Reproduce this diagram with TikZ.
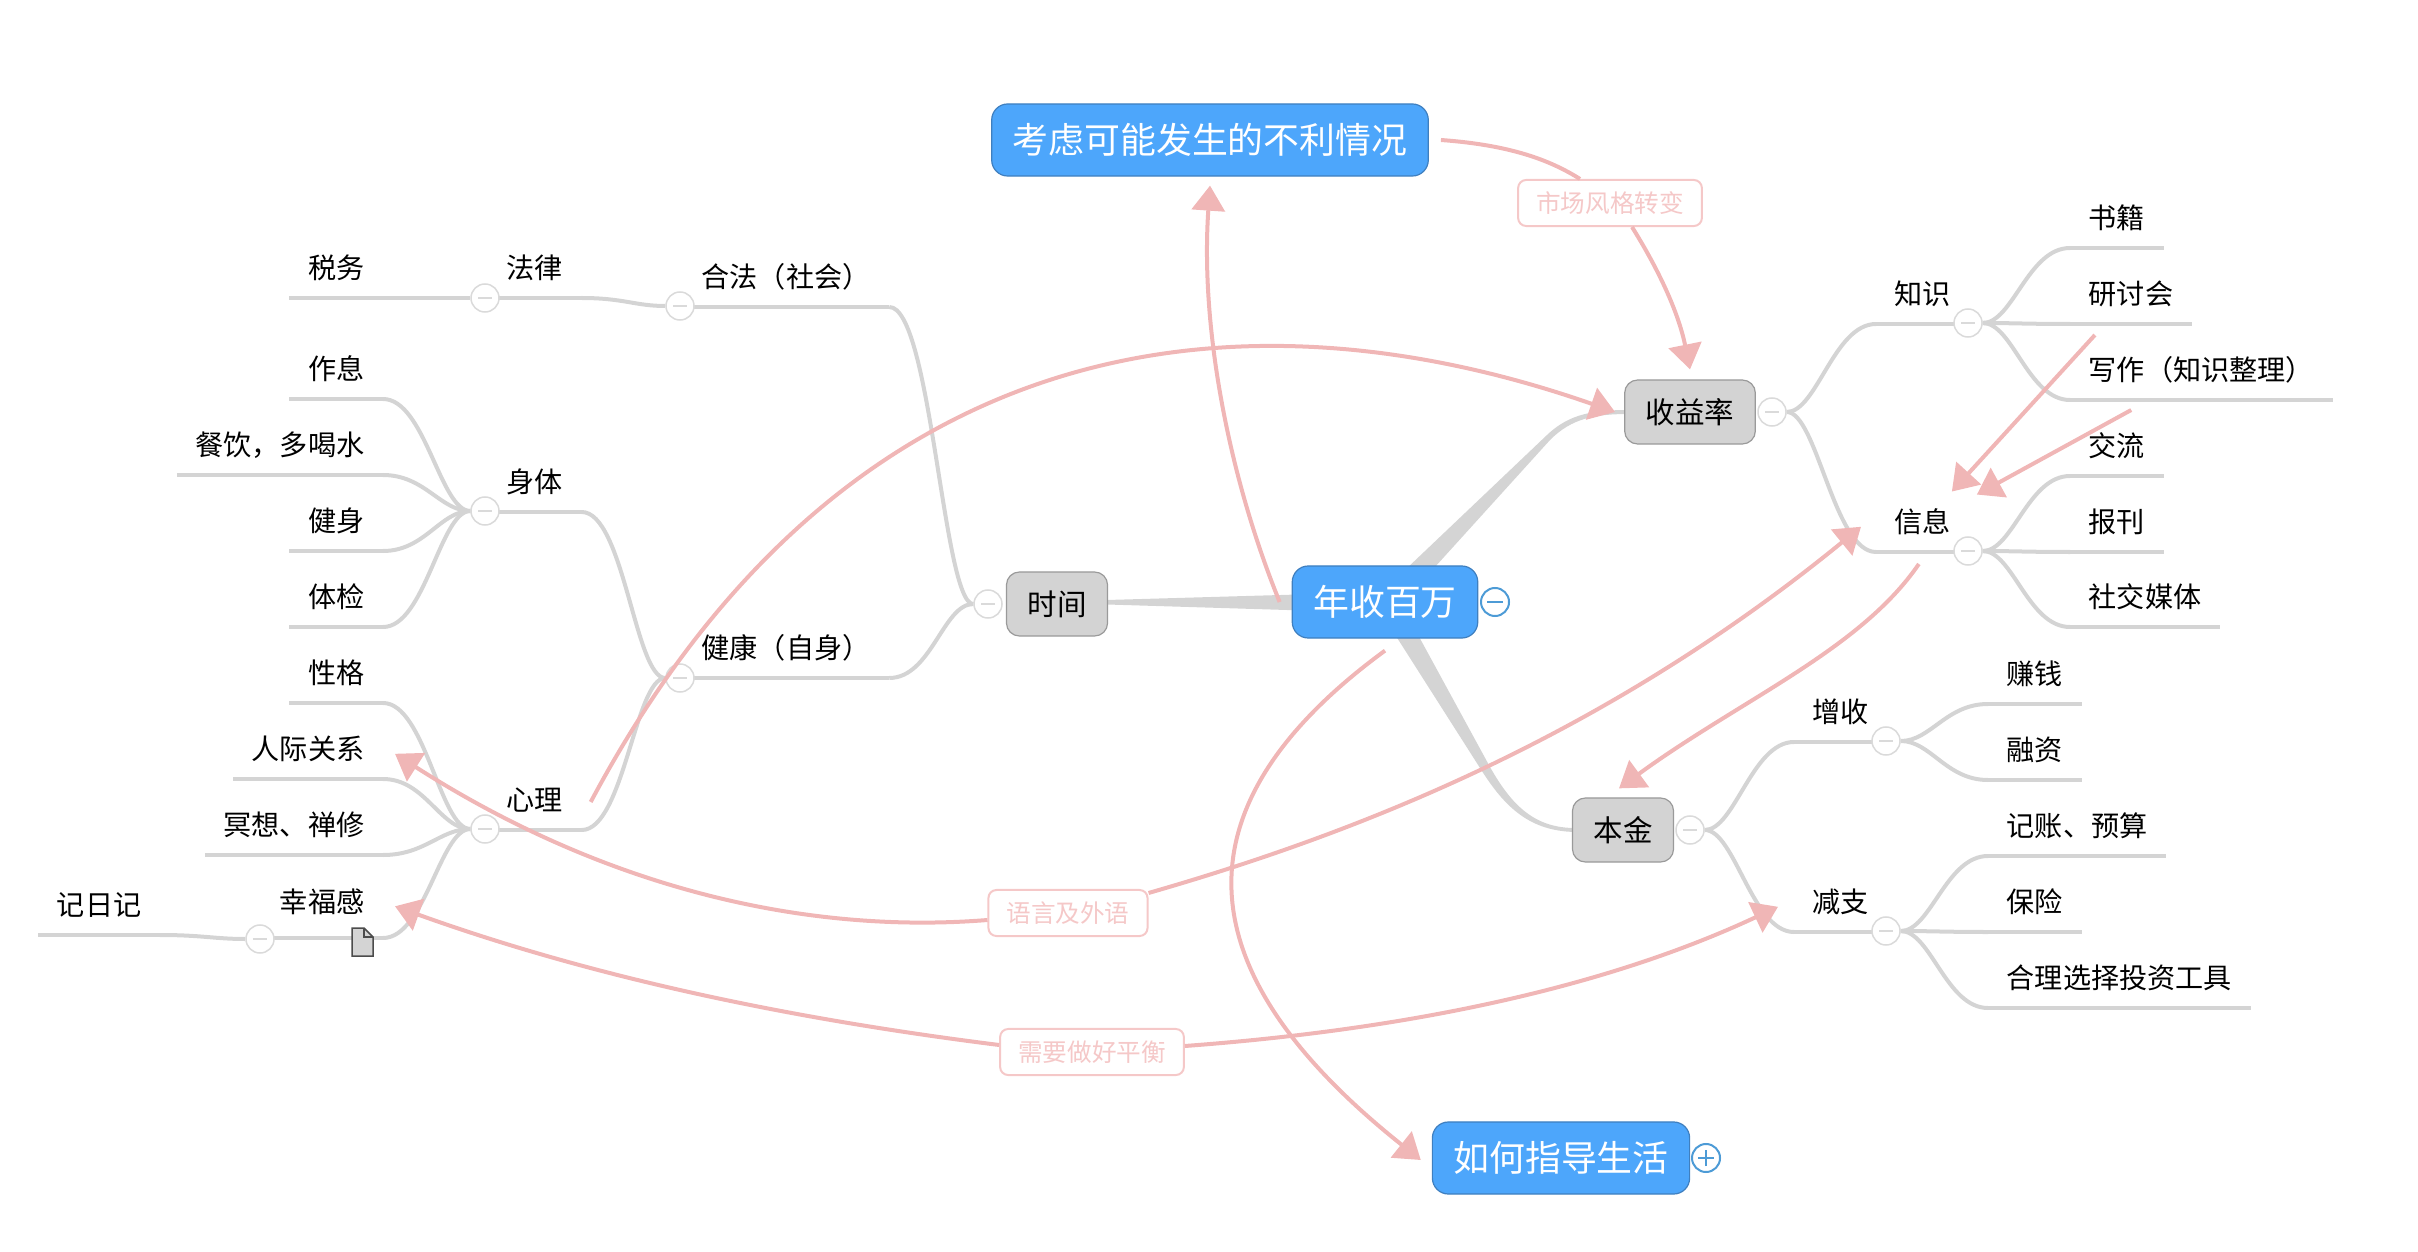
\documentclass[tikz,border=0pt]{standalone}
\usepackage{fontspec}
\usepackage{xcolor}
\usepackage{tikz}
\usetikzlibrary{arrows.meta, backgrounds}
\setmainfont{Noto Sans CJK SC}

\definecolor{twiggray}{HTML}{D4D4D4}
\definecolor{foldgray}{HTML}{DADADA}
\definecolor{relpink}{HTML}{F0B6B6}
\definecolor{labelpink}{HTML}{F5C8C8}
\definecolor{ideablue}{HTML}{4DA6FB}
\definecolor{ideaedge}{HTML}{3F7FBF}
\definecolor{foldblue}{HTML}{4D9BD6}
\definecolor{topicgray}{HTML}{D3D3D3}
\definecolor{topicedge}{HTML}{9A9A9A}

\tikzset{
  mainidea/.style={draw=ideaedge, fill=ideablue, text=white, line width=.012cm, rounded corners=.16cm,
    font=\fontsize{10.2}{12}\selectfont, inner xsep=.21cm, inner ysep=0pt, minimum height=.72cm},
  topicbox/.style={draw=topicedge, fill=topicgray, line width=.012cm, rounded corners=.13cm,
    font=\fontsize{8.4}{10}\selectfont, inner xsep=.21cm, inner ysep=0pt, minimum height=.64cm},
  twigtext/.style={font=\fontsize{8}{10}\selectfont, inner xsep=.18cm, inner ysep=.19cm, text height=.21cm, text depth=0pt},
  twigleft/.style={twigtext, anchor=south east},
  twigright/.style={twigtext, anchor=south west},
  twig/.style={draw=twiggray, line width=.04cm},
  wedge/.style={fill=twiggray},
  fold/.style={circle, draw=foldgray, fill=white, line width=.015cm, minimum size=.28cm, inner sep=0pt,
    path picture={\draw[foldgray, line width=.02cm] ([xshift=-.07cm]path picture bounding box.center) -- ([xshift=.07cm]path picture bounding box.center);}},
  foldminus/.style={circle, draw=foldblue, fill=white, line width=.02cm, minimum size=.28cm, inner sep=0pt,
    path picture={\draw[foldblue, line width=.02cm] ([xshift=-.08cm]path picture bounding box.center) -- ([xshift=.08cm]path picture bounding box.center);}},
  foldplus/.style={circle, draw=foldblue, fill=white, line width=.02cm, minimum size=.28cm, inner sep=0pt,
    path picture={\draw[foldblue, line width=.02cm] ([xshift=-.08cm]path picture bounding box.center) -- ([xshift=.08cm]path picture bounding box.center)
      ([yshift=-.08cm]path picture bounding box.center) -- ([yshift=.08cm]path picture bounding box.center);}},
  rel/.style={draw=relpink, line width=.04cm, -{Triangle[length=.25cm, width=.33cm]}},
  relplain/.style={draw=relpink, line width=.04cm},
  linklabel/.style={draw=labelpink, fill=white, text=labelpink, line width=.02cm, rounded corners=.08cm,
    font=\fontsize{7}{9}\selectfont, inner xsep=.18cm, inner ysep=0pt, minimum height=.46cm},
  noteicon/.style={draw=black!70, fill=twiggray, line width=.015cm}
}

\begin{document}
\begin{tikzpicture}[x=.01cm, y=-.01cm]
\useasboundingbox (0,0) rectangle (2418,1252);

% Main ideas
\node[mainidea] (nianshou) at (1385,602) {年收百万};
\node[mainidea] (kaolv) at (1210,140) {考虑可能发生的不利情况};
\node[mainidea] (zhidao) at (1561,1158) {如何指导生活};
\node[foldminus] (cNianshou) at (1495,602) {};
\node[foldplus] (cZhidao) at (1706,1158) {};

\node[topicbox] (shouyi) at (1690,412) {收益率};
\node[topicbox] (shijian) at (1057,604) {时间};
\node[topicbox] (benjin) at (1623,830) {本金};
\node[fold] (cShouyi) at (1772,412) {};
\node[fold] (cShijian) at (988,604) {};
\node[fold] (cBenjin) at (1690,830) {};

% Left side
\node[twigright] (falv) at (488,298) {法律};
\node[twigright] (hefa) at (683,307) {合法（社会）};
\node[twigright] (shenti) at (488,512) {身体};
\node[twigright] (jiankang) at (683,678) {健康（自身）};
\node[twigright] (xinli) at (488,830) {心理};
\node[fold] (cFalv) at (485,298) {};
\node[fold] (cHefa) at (680,306) {};
\node[fold] (cShenti) at (485,511) {};
\node[fold] (cJiankang) at (680,678) {};
\node[fold] (cXinli) at (485,829) {};

\node[twigleft] (shuiwu) at (383,298) {税务};
\node[twigleft] (zuoxi) at (383,399) {作息};
\node[twigleft] (canyin) at (383,475) {餐饮，多喝水};
\node[twigleft] (jianshen) at (383,551) {健身};
\node[twigleft] (tijian) at (383,627) {体检};
\node[twigleft] (xingge) at (383,703) {性格};
\node[twigleft] (renji) at (383,779) {人际关系};
\node[twigleft] (mingxiang) at (383,855) {冥想、禅修};
\node[twigleft, inner ysep=.25cm] (xingfu) at (383,938) {幸福感};
\node[twigleft] (riji) at (160,935) {记日记};
\node[fold] (cXingfu) at (260,939) {};

% Right side
\node[twigright] (zhishi) at (1876,324) {知识};
\node[twigright] (xinxi) at (1876,552) {信息};
\node[twigright] (zengshou) at (1794,742) {增收};
\node[twigright] (jianzhi) at (1794,932) {减支};
\node[fold] (cZhishi) at (1968,323) {};
\node[fold] (cXinxi) at (1968,551) {};
\node[fold] (cZengshou) at (1886,741) {};
\node[fold] (cJianzhi) at (1886,931) {};

\node[twigright] (shuji) at (2070,248) {书籍};
\node[twigright] (yantao) at (2070,324) {研讨会};
\node[twigright] (xiezuo) at (2070,400) {写作（知识整理）};
\node[twigright] (jiaoliu) at (2070,476) {交流};
\node[twigright] (baokan) at (2070,552) {报刊};
\node[twigright] (shejiao) at (2070,627) {社交媒体};
\node[twigright] (zhuanqian) at (1988,704) {赚钱};
\node[twigright] (rongzi) at (1988,780) {融资};
\node[twigright] (jizhang) at (1988,856) {记账、预算};
\node[twigright] (baoxian) at (1988,932) {保险};
\node[twigright] (touzi) at (1988,1008) {合理选择投资工具};

% Note icon
\draw[noteicon] (352,928) -- (364,928) -- (373,937) -- (373,956) -- (352,956) -- cycle;
\draw[noteicon, fill=none] (364,928) -- (364,937) -- (373,937);

\begin{scope}[on background layer]
% Thick branches
\fill[wedge] (1385,592) -- (1107,600) -- (1107,604.5) -- (1385,613) -- cycle;
\fill[wedge] (1384,590) -- (1547,435) .. controls (1570,413) and (1595,410) .. (1630,410) -- (1630,414)
  .. controls (1595,414) and (1572,418) .. (1550,440) -- (1396,610) -- cycle;
\fill[wedge] (1373,600) -- (1480,768) .. controls (1505,808) and (1530,831) .. (1575,832) -- (1575,828)
  .. controls (1535,828) and (1512,806) .. (1490,767) -- (1399,600) -- cycle;

% Underlines
\foreach \n in {falv,hefa,shenti,jiankang,xinli,shuiwu,zuoxi,canyin,jianshen,tijian,xingge,renji,mingxiang,xingfu,riji,
  zhishi,xinxi,zengshou,jianzhi,shuji,yantao,xiezuo,jiaoliu,baokan,shejiao,zhuanqian,rongzi,jizhang,baoxian,touzi}
  \draw[twig] (\n.south west) -- (\n.south east);

% Twigs towards the left
\foreach \a/\b in {shuiwu/cFalv,zuoxi/cShenti,canyin/cShenti,jianshen/cShenti,tijian/cShenti,
  xingge/cXinli,renji/cXinli,mingxiang/cXinli,xingfu/cXinli,riji/cXingfu,
  falv/cHefa,shenti/cJiankang,xinli/cJiankang,hefa/cShijian,jiankang/cShijian}
  \draw[twig] (\a.south east) .. controls +(42,0) and +(-30,0) .. (\b.west);

% Twigs towards the right
\foreach \a/\b in {cShouyi/zhishi,cShouyi/xinxi,cBenjin/zengshou,cBenjin/jianzhi,
  cZhishi/shuji,cZhishi/yantao,cZhishi/xiezuo,cXinxi/jiaoliu,cXinxi/baokan,cXinxi/shejiao,
  cZengshou/zhuanqian,cZengshou/rongzi,cJianzhi/jizhang,cJianzhi/baoxian,cJianzhi/touzi}
  \draw[twig] (\a.east) .. controls +(30,0) and +(-42,0) .. (\b.south west);
\end{scope}

% Relationship labels
\node[linklabel] (lbShichang) at (1610,203) {市场风格转变};
\node[linklabel] (lbYuyan) at (1068,913) {语言及外语};
\node[linklabel] (lbPingheng) at (1092,1052) {需要做好平衡};

% Relationships
\draw[rel] ([xshift=-.12cm]nianshou.west) .. controls (1230,480) and (1200,330) .. ([yshift=-.09cm]kaolv.south);
\draw[rel] ([yshift=-.12cm]nianshou.south) .. controls (1140,830) and (1220,1000) .. ([xshift=-.11cm,yshift=-.02cm]zhidao.west);
\draw[rel] ([xshift=.09cm,yshift=.28cm]xinli.south east) .. controls (855,306) and (1266,290) .. ([xshift=-.09cm]shouyi.west);
\draw[relplain] ([xshift=.12cm]kaolv.east) .. controls (1510,145) and (1550,160) .. ([xshift=-.3cm]lbShichang.north);
\draw[rel] ([xshift=.22cm]lbShichang.south) .. controls (1665,280) and (1680,320) .. ([yshift=.1cm]shouyi.north);
\draw[rel] ([yshift=-.07cm]lbYuyan.west) .. controls (800,935) and (600,885) .. ([xshift=.12cm,yshift=-.05cm]renji.east);
\draw[rel] ([yshift=.2cm]lbYuyan.east) .. controls (1350,835) and (1600,740) .. ([xshift=-.15cm,yshift=-.05cm]xinxi.west);
\draw[rel] ([yshift=.07cm]lbPingheng.west) .. controls (800,1020) and (600,980) .. ([xshift=.12cm,yshift=-.045cm]xingfu.east);
\draw[rel] ([yshift=.06cm]lbPingheng.east) .. controls (1400,1030) and (1600,990) .. ([xshift=-.16cm,yshift=-.05cm]jianzhi.west);
\draw[rel] ([xshift=-.36cm,yshift=-.11cm]yantao.south) -- ([xshift=.29cm]xinxi.north);
\draw[rel] ([xshift=-.7cm,yshift=-.1cm]xiezuo.south) -- ([xshift=.54cm,yshift=-.03cm]xinxi.north);
\draw[rel] ([xshift=-.04cm,yshift=-.12cm]xinxi.south) .. controls (1860,650) and (1740,700) .. ([xshift=-.04cm,yshift=.09cm]benjin.north);
\end{tikzpicture}
\end{document}
